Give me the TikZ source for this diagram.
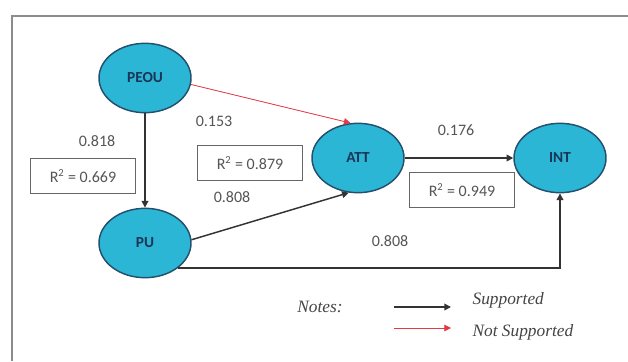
\documentclass[tikz,border=0pt]{standalone}
\usepackage{fontspec}
\setmainfont{Carlito}
\newfontfamily\notesfont{Liberation Serif}
\usepackage{tikz}
\usetikzlibrary{arrows.meta,shapes.geometric,positioning}
\definecolor{Ink}{HTML}{1B3556}
\definecolor{Rim}{HTML}{24506E}
\definecolor{Sky}{HTML}{2BB6D6}
\definecolor{Muted}{HTML}{555555}
\definecolor{Frame}{HTML}{8C8C8C}
\definecolor{Lost}{HTML}{E23B45}
\tikzset{
  construct/.style={ellipse,draw=Rim,line width=1.1pt,fill=Sky,minimum width=69pt,minimum height=52pt,inner sep=1pt,text=Ink,font=\fontsize{11.5}{13}\selectfont\bfseries},
  rsq/.style={draw=Muted!90,line width=0.9pt,minimum width=78.5pt,minimum height=26.5pt,inner sep=2pt,text=Muted,font=\fontsize{12}{14}\selectfont},
  coef/.style={text=Muted,inner sep=1pt,font=\fontsize{12}{14}\selectfont},
  note/.style={text=Muted!80!black,inner sep=1pt,font=\notesfont\itshape\fontsize{13}{15}\selectfont},
  supported/.style={-{Triangle[length=5pt,width=5pt]},line width=1.1pt,draw=black!80},
  rejected/.style={-{Triangle[length=5pt,width=5pt]},line width=0.6pt,draw=Lost,fill=Lost}
}
\begin{document}
\begin{tikzpicture}[x=0.75pt,y=-0.75pt]
  \useasboundingbox (0,0) rectangle (628,361);
  \draw[Frame,line width=1.6pt] (628,16) -- (12,16) -- (12,361);
  \node[construct] (peou) at (145,78) {PEOU};
  \node[construct] (pu) at (145,243) {PU};
  \node[construct] (att) at (358,158) {ATT};
  \node[construct] (int) at (560,158) {INT};
  \draw[supported] (peou) -- (pu);
  \draw[rejected] (peou.-8) -- (att.102);
  \draw[supported] (pu.4) -- (att.-105);
  \draw[supported] (att) -- (int);
  \draw[supported] (pu.-37) -| (int.south);
  \node[rsq] (r669) at (83,176) {R\textsuperscript{2} = 0.669};
  \node[rsq] (r879) at (250,163) {R\textsuperscript{2} = 0.879};
  \node[rsq] (r949) at (462,190) {R\textsuperscript{2} = 0.949};
  \node[coef] (c818) at (97,141) {0.818};
  \node[coef] (c153) at (214,121) {0.153};
  \node[coef] (c808a) at (232,197) {0.808};
  \node[coef] (c176) at (456,130) {0.176};
  \node[coef] (c808b) at (390,241) {0.808};
  % legend
  \node[note] (notes) at (320,307) {Notes:};
  \coordinate (sFrom) at (394,307); \coordinate (sTo) at (451,307);
  \coordinate (nFrom) at (394,328); \coordinate (nTo) at (451,328);
  \draw[supported] (sFrom) -- (sTo);
  \draw[rejected] (nFrom) -- (nTo);
  \node[note,anchor=west] (supp) at (471,300) {Supported};
  \node[note,anchor=west] (nsupp) at (471,332) {Not Supported};
\end{tikzpicture}
\end{document}
